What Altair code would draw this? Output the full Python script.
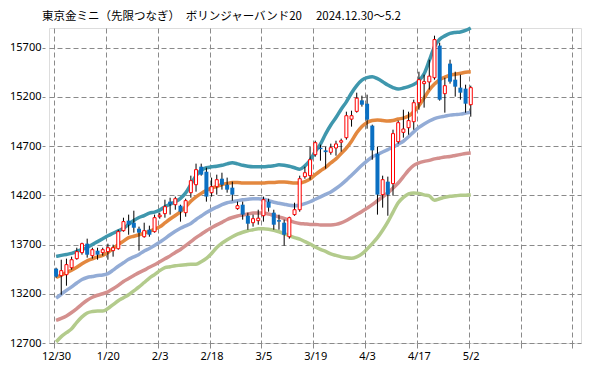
import altair as alt
import pandas as pd

title_text = "東京金ミニ（先限つなぎ）　ボリンジャーバンド20　 2024.12.30～5.2"

trade_dates = [
    "12/30", "1/6", "1/7", "1/8", "1/9", "1/10", "1/14", "1/15", "1/16", "1/17",
    "1/20", "1/21", "1/22", "1/23", "1/24", "1/27", "1/28", "1/29", "1/30", "1/31",
    "2/3", "2/4", "2/5", "2/6", "2/7", "2/10", "2/12", "2/13", "2/14", "2/17",
    "2/18", "2/19", "2/20", "2/21", "2/25", "2/26", "2/27", "2/28", "3/3", "3/4",
    "3/5", "3/6", "3/7", "3/10", "3/11", "3/12", "3/13", "3/14", "3/17", "3/18",
    "3/19", "3/21", "3/24", "3/25", "3/26", "3/27", "3/28", "3/31", "4/1", "4/2",
    "4/3", "4/4", "4/7", "4/8", "4/9", "4/10", "4/11", "4/14", "4/15", "4/16",
    "4/17", "4/18", "4/21", "4/22", "4/23", "4/24", "4/25", "4/28", "4/30", "5/1",
    "5/2",
]

opens = [
    13455, 13384, 13394, 13465, 13557, 13618, 13709, 13587, 13638, 13618,
    13628, 13638, 13658, 13841, 13943, 13922, 13861, 13780, 13851, 13831,
    13983, 14014, 14136, 14105, 14095, 14024, 14227, 14308, 14491, 14440,
    14227, 14288, 14369, 14308, 14278, 14065, 14105, 13993, 13922, 13943,
    13993, 14136, 14024, 13948, 13922, 13780, 14004, 14054, 14390, 14400,
    14613, 14684, 14657, 14637, 14681, 14740, 14786, 14974, 15053, 15165,
    15131, 14908, 14623, 14207, 14339, 14319, 14745, 14840, 14887, 14948,
    15141, 15335, 15352, 15395, 15721, 15233, 15538, 15375, 15294, 15284,
    15121,
]
highs = [
    13465, 13546, 13557, 13577, 13668, 13719, 13760, 13668, 13668, 13668,
    13709, 13699, 13851, 13973, 14004, 14044, 13882, 13922, 13892, 14004,
    14024, 14156, 14176, 14187, 14105, 14166, 14400, 14522, 14522, 14481,
    14380, 14410, 14430, 14380, 14339, 14136, 14136, 14024, 14004, 14054,
    14187, 14166, 14054, 14004, 13953, 13983, 14125, 14400, 14491, 14694,
    14755, 14715, 14694, 14725, 14755, 14776, 15050, 15060, 15243, 15213,
    15223, 14918, 14694, 14400, 14390, 14867, 14959, 15070, 15050, 15172,
    15456, 15426, 15578, 15822, 15751, 15395, 15578, 15456, 15426, 15324,
    15314,
]
lows = [
    13363, 13190, 13282, 13445, 13546, 13597, 13567, 13557, 13546, 13587,
    13546, 13577, 13648, 13831, 13800, 13821, 13638, 13770, 13780, 13821,
    13963, 13973, 14004, 14054, 13933, 13983, 14176, 14237, 14400, 14136,
    14187, 14207, 14258, 14227, 14146, 14054, 13953, 13851, 13882, 13902,
    13933, 14034, 13851, 13851, 13689, 13760, 13993, 14034, 14369, 14359,
    14593, 14552, 14471, 14613, 14603, 14644, 14766, 14898, 15040, 15101,
    14877, 14562, 14004, 14075, 13993, 14197, 14725, 14786, 14816, 14867,
    15070, 15091, 15274, 15375, 15162, 15040, 15335, 15203, 15172, 15040,
    14999,
]
closes = [
    13374, 13435, 13496, 13546, 13628, 13709, 13597, 13648, 13597, 13648,
    13668, 13668, 13831, 13933, 13902, 13871, 13821, 13841, 13800, 13973,
    13999, 14085, 14110, 14166, 14034, 14146, 14349, 14461, 14410, 14187,
    14288, 14359, 14308, 14258, 14207, 14095, 14004, 13912, 13963, 13968,
    14156, 14075, 13902, 13933, 13800, 13973, 14054, 14369, 14430, 14562,
    14735, 14669, 14639, 14684, 14722, 14755, 15009, 15009, 15187, 15121,
    14969, 14657, 14207, 14359, 14207, 14827, 14938, 14874, 14959, 15141,
    15375, 15355, 15411, 15782, 15172, 15314, 15355, 15304, 15243, 15131,
    15294,
]

band_upper = [
    13580, 13590, 13600, 13610, 13630, 13650, 13670, 13700, 13730, 13760,
    13790, 13815, 13840, 13865, 13905, 13945, 13975, 13995, 14020, 14030,
    14050, 14085, 14110, 14135, 14170, 14225, 14310, 14400, 14455, 14480,
    14490, 14495, 14505, 14520, 14530, 14520, 14505, 14495, 14490, 14490,
    14490, 14495, 14500, 14510, 14505, 14495, 14480, 14465, 14500, 14555,
    14645, 14720, 14825, 14915, 14990, 15075, 15150, 15240, 15315, 15370,
    15395, 15405, 15385, 15355, 15320, 15295, 15280, 15290, 15305, 15325,
    15365, 15435, 15570, 15710, 15785, 15820, 15845, 15855, 15860, 15875,
    15900,
]
ma20 = [
    13365, 13390, 13415, 13440, 13470, 13505, 13535, 13555, 13575, 13590,
    13620, 13660, 13700, 13735, 13770, 13785, 13800, 13815, 13835, 13855,
    13880, 13920, 13960, 13995, 14035, 14085, 14140, 14185, 14220, 14250,
    14275, 14290, 14310, 14320, 14330, 14330, 14325, 14325, 14325, 14325,
    14325, 14330, 14330, 14335, 14335, 14330, 14325, 14325, 14340, 14365,
    14410, 14450, 14485, 14530, 14570, 14625, 14680, 14750, 14835, 14900,
    14940, 14960, 14965, 14960, 14955, 14960, 14975, 14985, 15005, 15050,
    15110, 15190, 15270, 15330, 15375, 15400, 15420, 15430, 15440, 15450,
    15455,
]
band_lower1 = [
    13155, 13195, 13235, 13270, 13310, 13345, 13365, 13375, 13385, 13390,
    13405, 13440, 13480, 13515, 13550, 13575, 13600, 13635, 13660, 13690,
    13725, 13760, 13800, 13835, 13865, 13890, 13915, 13955, 13990, 14025,
    14055, 14080, 14105, 14125, 14135, 14145, 14155, 14160, 14165, 14165,
    14160, 14145, 14130, 14120, 14110, 14100, 14095, 14100, 14115, 14135,
    14160, 14185, 14210, 14235, 14270, 14310, 14355, 14405, 14455, 14505,
    14550, 14590, 14615, 14640, 14665, 14690, 14720, 14750, 14795, 14845,
    14890, 14925, 14955, 14980, 14995, 15005, 15015, 15020, 15025, 15035,
    15045,
]
band_lower2 = [
    12930, 12950, 12975, 13010, 13050, 13095, 13135, 13165, 13185, 13200,
    13220, 13250, 13285, 13325, 13355, 13385, 13415, 13440, 13470, 13495,
    13525, 13555, 13585, 13620, 13650, 13690, 13730, 13770, 13805, 13840,
    13870, 13900, 13925, 13955, 13975, 13990, 14000, 14010, 14020, 14020,
    14020, 14010, 13995, 13980, 13965, 13945, 13925, 13915, 13910, 13905,
    13905, 13900, 13900, 13900, 13905, 13920, 13945, 13975, 14005, 14035,
    14070, 14105, 14145, 14185, 14225, 14275, 14325, 14390, 14455, 14505,
    14530, 14545, 14555, 14570, 14580, 14590, 14595, 14605, 14615, 14625,
    14630,
]
band_lower3 = [
    12710, 12765, 12805, 12845, 12910, 12965, 13005, 13020, 13025, 13025,
    13050, 13090, 13130, 13160, 13190, 13230, 13270, 13315, 13360, 13395,
    13435, 13465, 13475, 13485, 13490, 13495, 13500, 13500, 13525, 13560,
    13610, 13670, 13715, 13750, 13780, 13805, 13825, 13840, 13850, 13860,
    13860, 13855, 13845, 13830, 13810, 13790, 13770, 13755, 13730, 13705,
    13675, 13650, 13630, 13605, 13590, 13575, 13565, 13560, 13575, 13605,
    13655, 13710, 13770, 13845, 13930, 14030, 14125, 14180, 14215, 14225,
    14220, 14205, 14195, 14150, 14165, 14180, 14190, 14195, 14200, 14200,
    14205,
]

y_ticks = [12700, 13200, 13700, 14200, 14700, 15200, 15700]
x_step = 10
x_slots = 101

n = len(trade_dates)
df = pd.DataFrame({
    "i": list(range(n)),
    "date": trade_dates,
    "open": opens, "high": highs, "low": lows, "close": closes,
    "upper": band_upper, "ma": ma20, "lower1": band_lower1,
    "lower2": band_lower2, "lower3": band_lower3,
})
df["up"] = df["close"] >= df["open"]

shift = 0.4
tick_vals = [k - shift for k in range(0, x_slots, x_step)]
tick_labels = [trade_dates[k] if k < n else "" for k in range(0, x_slots, x_step)]
label_expr = "[" + ",".join("'" + t + "'" for t in tick_labels) + "][round((datum.value + %s) / %d)]" % (shift, x_step)

GRID = "#8a8a8a"
x_scale = alt.Scale(domain=[-shift, 100.3], nice=False, zero=False)
y_scale = alt.Scale(domain=[12700, 15900], nice=False, zero=False)

x_axis = alt.Axis(
    values=tick_vals, labelExpr=label_expr, grid=True, gridDash=[5, 3], gridColor=GRID,
    gridWidth=1, tickColor=GRID, tickSize=5, labelPadding=2, labelOffset=2, domain=False,
    title=None, labelFont="Noto Sans", labelFontSize=11, labelColor="#000000",
    labelOverlap=False, labelBound=False, labelFlush=False,
)
y_axis = alt.Axis(
    values=y_ticks, grid=True, gridDash=[5, 3], gridColor=GRID, gridWidth=1,
    tickColor=GRID, tickSize=7, tickDash=[0, 4, 3, 0], labelPadding=1, domain=False,
    title=None, labelFont="Noto Sans", labelFontSize=11, labelColor="#000000",
    format="d", labelBound=False, labelFlush=False,
)


def X():
    return alt.X("i:Q", scale=x_scale, axis=x_axis, title=None)


def Y(col):
    return alt.Y(f"{col}:Q", scale=y_scale, axis=y_axis, title=None)


base = alt.Chart(df)

line_specs = [
    ("lower3", "#b3cb8c"),
    ("lower2", "#d4908e"),
    ("lower1", "#93acd6"),
    ("ma", "#e3883f"),
    ("upper", "#3f97ad"),
]

layers = []
for col, colr in line_specs:
    layers.append(
        base.mark_line(color=colr, strokeWidth=3.5, interpolate="monotone").encode(
            x=X(), y=Y(col)
        )
    )

wicks = base.mark_rule(color="#000000", strokeWidth=1).encode(
    x=X(), y=Y("low"), y2="high:Q",
)
down_bodies = base.transform_filter("!datum.up").mark_bar(size=4, color="#0a6fc2").encode(
    x=X(), y=Y("open"), y2="close:Q",
)
up_bodies = base.transform_filter("datum.up").mark_bar(
    size=3, fill="#ffffff", stroke="#ff0000", strokeWidth=1
).encode(
    x=X(), y=Y("open"), y2="close:Q",
)

title_layer = alt.Chart(pd.DataFrame({"t": [title_text]})).mark_text(
    align="left", baseline="middle", font="Noto Sans CJK JP", fontSize=11.5, color="#000000"
).encode(x=alt.value(-7), y=alt.value(-11), text="t:N")

chart = alt.layer(*layers, wicks, down_bodies, up_bodies, title_layer).properties(
    width=532, height=315,
    padding={"left": 41, "top": 20, "right": 10, "bottom": 19},
    autosize="none",
).configure_view(stroke="#868686", strokeWidth=1).configure(background="#ffffff")

chart.save("out.html", embed_options={"renderer": "svg", "actions": False})
